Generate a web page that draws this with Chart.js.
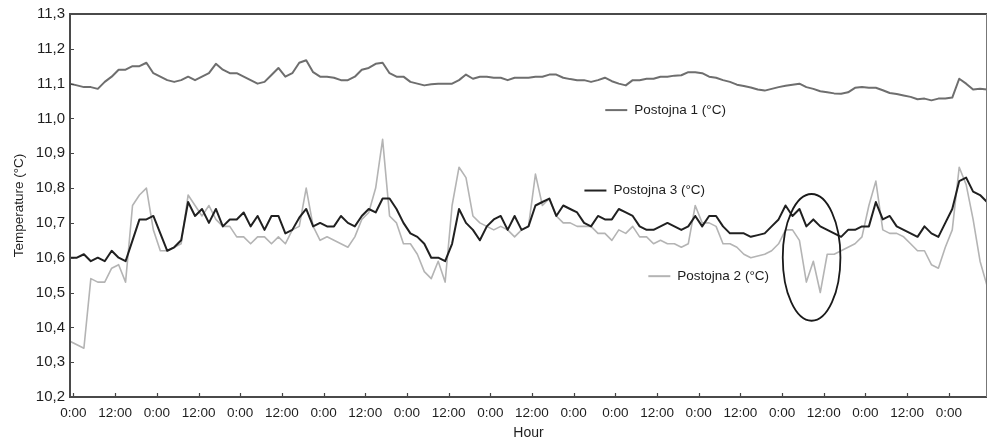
<!DOCTYPE html>
<html>
<head>
<meta charset="utf-8">
<script src="https://cdn.jsdelivr.net/npm/chart.js@4/dist/chart.umd.min.js"></script>
<style>
  html, body { margin: 0; padding: 0; background: #fff; }
  canvas { display: block; }
</style>
</head>
<body>
<canvas id="chart" width="988" height="444"></canvas>
<script>
  /* ── Data (2-hour samples, first at hour -1) ── */

  var TICK_LABELS = ["0:00", "12:00", "0:00", "12:00", "0:00", "12:00", "0:00", "12:00",
    "0:00", "12:00", "0:00", "12:00", "0:00", "0:00", "12:00", "0:00", "12:00", "0:00",
    "12:00", "0:00", "12:00", "0:00"];

  var POSTOJNA_1 = [
    11.100, 11.095, 11.090, 11.090, 11.085, 11.105, 11.120, 11.140, 11.140, 11.150,
    11.150, 11.160, 11.130, 11.120, 11.110, 11.105, 11.110, 11.120, 11.110, 11.120,
    11.130, 11.157, 11.140, 11.130, 11.130, 11.120, 11.110, 11.100, 11.105, 11.125,
    11.145, 11.120, 11.130, 11.160, 11.167, 11.133, 11.120, 11.120, 11.117, 11.110,
    11.110, 11.120, 11.140, 11.145, 11.157, 11.160, 11.130, 11.120, 11.120, 11.105,
    11.100, 11.095, 11.098, 11.100, 11.100, 11.100, 11.110, 11.126, 11.114, 11.120,
    11.120, 11.117, 11.117, 11.110, 11.117, 11.117, 11.117, 11.120, 11.120, 11.126,
    11.126, 11.117, 11.113, 11.110, 11.110, 11.105, 11.110, 11.117, 11.107, 11.100,
    11.095, 11.110, 11.110, 11.114, 11.114, 11.120, 11.120, 11.123, 11.124, 11.133,
    11.133, 11.130, 11.120, 11.117, 11.110, 11.105, 11.097, 11.093, 11.089, 11.083,
    11.080, 11.085, 11.090, 11.094, 11.097, 11.100, 11.090, 11.085, 11.078, 11.075,
    11.072, 11.071, 11.075, 11.088, 11.090, 11.088, 11.088, 11.081, 11.073, 11.070,
    11.066, 11.062, 11.055, 11.057, 11.052, 11.057, 11.057, 11.060, 11.114, 11.100,
    11.083, 11.085, 11.083
  ];

  var POSTOJNA_2 = [
    10.36, 10.35, 10.34, 10.54, 10.53, 10.53, 10.57, 10.58, 10.53, 10.75,
    10.78, 10.80, 10.68, 10.62, 10.62, 10.63, 10.64, 10.78, 10.75, 10.72,
    10.75, 10.71, 10.69, 10.69, 10.66, 10.66, 10.64, 10.66, 10.66, 10.64,
    10.66, 10.64, 10.68, 10.69, 10.80, 10.69, 10.65, 10.66, 10.65, 10.64,
    10.63, 10.66, 10.71, 10.73, 10.80, 10.94, 10.72, 10.70, 10.64, 10.64,
    10.61, 10.56, 10.54, 10.59, 10.53, 10.75, 10.86, 10.83, 10.72, 10.70,
    10.69, 10.68, 10.69, 10.68, 10.66, 10.68, 10.69, 10.84, 10.75, 10.77,
    10.72, 10.70, 10.70, 10.69, 10.69, 10.69, 10.67, 10.67, 10.65, 10.68,
    10.67, 10.69, 10.66, 10.66, 10.64, 10.65, 10.64, 10.64, 10.63, 10.64,
    10.75, 10.70, 10.70, 10.69, 10.64, 10.64, 10.63, 10.61, 10.60, 10.605,
    10.61, 10.62, 10.64, 10.68, 10.68, 10.65, 10.53, 10.59, 10.50, 10.61,
    10.61, 10.62, 10.63, 10.64, 10.66, 10.75, 10.82, 10.68, 10.67, 10.67,
    10.66, 10.64, 10.62, 10.62, 10.58, 10.57, 10.63, 10.68, 10.86, 10.81,
    10.71, 10.59, 10.52
  ];

  var POSTOJNA_3 = [
    10.60, 10.60, 10.61, 10.59, 10.60, 10.59, 10.62, 10.60, 10.59, 10.65,
    10.71, 10.71, 10.72, 10.67, 10.62, 10.63, 10.65, 10.76, 10.72, 10.74,
    10.70, 10.74, 10.69, 10.71, 10.71, 10.73, 10.69, 10.72, 10.68, 10.72,
    10.72, 10.67, 10.68, 10.715, 10.74, 10.69, 10.70, 10.69, 10.69, 10.72,
    10.70, 10.69, 10.72, 10.74, 10.73, 10.77, 10.77, 10.74, 10.70, 10.67,
    10.66, 10.64, 10.60, 10.60, 10.59, 10.64, 10.74, 10.70, 10.68, 10.65,
    10.69, 10.71, 10.72, 10.68, 10.72, 10.68, 10.69, 10.75, 10.76, 10.77,
    10.72, 10.75, 10.74, 10.73, 10.70, 10.69, 10.72, 10.71, 10.71, 10.74,
    10.73, 10.72, 10.69, 10.68, 10.68, 10.69, 10.70, 10.69, 10.68, 10.69,
    10.72, 10.69, 10.72, 10.72, 10.69, 10.67, 10.67, 10.67, 10.66, 10.665,
    10.67, 10.69, 10.71, 10.75, 10.72, 10.74, 10.69, 10.71, 10.69, 10.68,
    10.67, 10.66, 10.68, 10.68, 10.69, 10.69, 10.76, 10.71, 10.72, 10.69,
    10.68, 10.67, 10.66, 10.69, 10.67, 10.66, 10.70, 10.74, 10.82, 10.83,
    10.79, 10.78, 10.76
  ];

  // sample times in hours
  var HOURS = [];
  for (var i = 0; i < POSTOJNA_1.length; i++) HOURS.push(-1 + i * 2);

  /* ── Annotations (in data units) ───────────── */

  var LABELS = [
    { text: "Postojna 1 (\u00B0C)", hour: 153.1, value: 11.024, color: "#6e6e6e" },
    { text: "Postojna 3 (\u00B0C)", hour: 147.1, value: 10.793, color: "#222222" },
    { text: "Postojna 2 (\u00B0C)", hour: 165.5, value: 10.547, color: "#b4b4b4" }
  ];
  var ELLIPSE = { hour: 212.5, value: 10.601, rHour: 8.3, rValue: 0.182 };

  var FONT = "'Liberation Sans', Arial, sans-serif";
  var TEXT = "#1e1e1e";

  function points(values) {
    return values.map(function (v, i) { return { x: HOURS[i], y: v }; });
  }

  /* ── Frame, inward ticks, inline legend, ellipse ── */

  var decor = {
    id: "decor",
    afterDatasetsDraw: function (chart) {
      var ctx = chart.ctx, a = chart.chartArea;
      var xs = chart.scales.x, ys = chart.scales.y;
      ctx.save();

      // inward tick marks
      ctx.strokeStyle = "#444";
      ctx.lineWidth = 1.2;
      ctx.beginPath();
      xs.ticks.forEach(function (t) {
        var px = Math.round(xs.getPixelForValue(t.value)) + 0.5;
        ctx.moveTo(px, a.bottom + 1);
        ctx.lineTo(px, a.bottom - 4);
      });
      ys.ticks.forEach(function (t) {
        var py = Math.round(ys.getPixelForValue(t.value)) + 0.5;
        ctx.moveTo(a.left - 1, py);
        ctx.lineTo(a.left + 4, py);
      });
      ctx.stroke();

      // frame
      ctx.strokeStyle = "#4a4a4a";
      ctx.lineWidth = 2;
      ctx.beginPath();
      ctx.moveTo(a.right, a.top);
      ctx.lineTo(a.left, a.top);
      ctx.lineTo(a.left, a.bottom);
      ctx.lineTo(a.right, a.bottom);
      ctx.stroke();
      ctx.strokeStyle = "#777";
      ctx.lineWidth = 1;
      ctx.beginPath();
      ctx.moveTo(a.right - 0.5, a.top);
      ctx.lineTo(a.right - 0.5, a.bottom);
      ctx.stroke();

      // inline legend labels
      ctx.font = "13.5px " + FONT;
      ctx.textBaseline = "middle";
      ctx.textAlign = "left";
      LABELS.forEach(function (l) {
        var x0 = xs.getPixelForValue(l.hour);
        var y0 = ys.getPixelForValue(l.value);
        ctx.strokeStyle = l.color;
        ctx.lineWidth = 2;
        ctx.beginPath();
        ctx.moveTo(x0, y0);
        ctx.lineTo(x0 + 22, y0);
        ctx.stroke();
        ctx.fillStyle = TEXT;
        ctx.fillText(l.text, x0 + 29, y0);
      });

      // ellipse around the Postojna 2 dip
      var cx = xs.getPixelForValue(ELLIPSE.hour);
      var cy = ys.getPixelForValue(ELLIPSE.value);
      var rx = xs.getPixelForValue(ELLIPSE.hour + ELLIPSE.rHour) - cx;
      var ry = cy - ys.getPixelForValue(ELLIPSE.value + ELLIPSE.rValue);
      ctx.strokeStyle = "#1a1a1a";
      ctx.lineWidth = 1.8;
      ctx.beginPath();
      ctx.ellipse(cx, cy, rx, ry, 0, 0, Math.PI * 2);
      ctx.stroke();

      ctx.restore();
    }
  };

  new Chart(document.getElementById("chart"), {
    type: "line",
    data: {
      datasets: [
        { label: "Postojna 1 (\u00B0C)", data: points(POSTOJNA_1), borderColor: "#6e6e6e", borderWidth: 2, order: 2 },
        { label: "Postojna 2 (\u00B0C)", data: points(POSTOJNA_2), borderColor: "#b4b4b4", borderWidth: 1.6, order: 3 },
        { label: "Postojna 3 (\u00B0C)", data: points(POSTOJNA_3), borderColor: "#202020", borderWidth: 2, order: 1 }
      ]
    },
    options: {
      responsive: false,
      animation: false,
      layout: { padding: { top: 14, right: 1, left: 0, bottom: 0 } },
      elements: {
        point: { radius: 0 },
        line: { tension: 0, fill: false, borderJoinStyle: "round" }
      },
      plugins: {
        legend: { display: false },
        tooltip: { enabled: false }
      },
      scales: {
        x: {
          type: "linear",
          min: -1,
          max: 263,
          grid: { display: false, drawTicks: false },
          border: { display: false },
          afterBuildTicks: function (axis) {
            axis.ticks = TICK_LABELS.map(function (l, i) { return { value: i * 12 }; });
          },
          afterFit: function (axis) { axis.height = 47; },
          ticks: {
            autoSkip: false,
            maxRotation: 0,
            padding: 8,
            color: TEXT,
            font: { family: FONT, size: 13.5 },
            callback: function (v, i) { return TICK_LABELS[i]; }
          },
          title: {
            display: true,
            text: "Hour",
            color: TEXT,
            font: { family: FONT, size: 14 },
            padding: { top: 0, bottom: 2 }
          }
        },
        y: {
          min: 10.2,
          max: 11.3,
          grid: { display: false, drawTicks: false },
          border: { display: false },
          afterFit: function (axis) { axis.width = 70; },
          ticks: {
            stepSize: 0.1,
            padding: 5,
            color: TEXT,
            font: { family: FONT, size: 15 },
            callback: function (v) { return v.toFixed(1).replace(".", ","); }
          },
          title: {
            display: true,
            text: "Temperature (\u00B0C)",
            color: TEXT,
            font: { family: FONT, size: 13.5 },
            padding: { top: 11, bottom: 0 }
          }
        }
      }
    },
    plugins: [decor]
  });
</script>
</body>
</html>
